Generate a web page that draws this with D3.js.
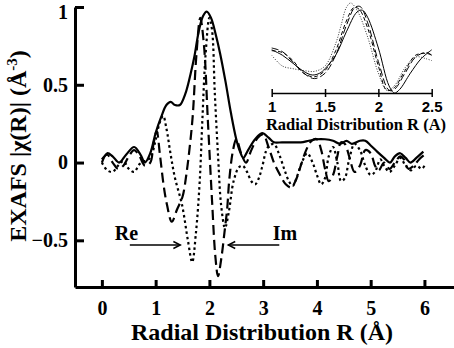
<!DOCTYPE html>
<html>
<head>
<meta charset="utf-8">
<script src="https://cdn.jsdelivr.net/npm/d3@7"></script>
<style>
	body { margin: 0; background: #fff; }
	svg { display: block; font-family: 'Liberation Serif', 'Times New Roman', serif; font-weight: bold; }
</style>
</head>
<body>
<div id="root"></div>
<script>
const 	width = 454,
		height = 348

// main panel: [R, value]
const magnitude = [[0,0],[0.1,0.06],[0.2,0.04],[0.32,0],[0.45,0.05],[0.6,0.10],[0.72,0.05],[0.8,0],[0.9,0.06],[1.0,0.19],
	[1.1,0.29],[1.2,0.37],[1.28,0.39],[1.36,0.37],[1.45,0.37],[1.55,0.44],[1.65,0.57],[1.72,0.68],[1.8,0.84],[1.88,0.94],
	[1.95,0.97],[2.03,0.93],[2.12,0.82],[2.2,0.70],[2.3,0.52],[2.4,0.32],[2.5,0.15],[2.57,0.07],[2.63,0.03],[2.72,0.08],
	[2.85,0.15],[2.98,0.19],[3.1,0.16],[3.2,0.13],[3.35,0.13],[3.5,0.13],[3.7,0.13],[3.85,0.14],[4.0,0.15],[4.15,0.15],
	[4.3,0.14],[4.43,0.12],[4.55,0.14],[4.65,0.12],[4.8,0.14],[4.9,0.14],[5.0,0.11],[5.12,0.07],[5.25,0.03],[5.36,0],
	[5.45,0.04],[5.55,0.06],[5.65,0.03],[5.74,0],[5.85,0.03],[5.98,0.07]]

const realPart = [[0,0],[0.1,-0.05],[0.2,-0.06],[0.3,-0.02],[0.4,0.01],[0.5,-0.04],[0.6,-0.06],[0.7,-0.01],[0.8,0.01],[0.9,0.03],
	[0.99,0.13],[1.07,0.25],[1.14,0.30],[1.2,0.22],[1.28,0.05],[1.36,-0.10],[1.49,-0.27],[1.6,-0.50],[1.68,-0.64],[1.75,-0.45],
	[1.82,-0.12],[1.87,0.28],[1.93,0.70],[2.0,0.93],[2.05,0.85],[2.1,0.45],[2.16,0.05],[2.22,-0.28],[2.29,-0.42],[2.36,-0.32],
	[2.45,-0.12],[2.55,-0.03],[2.62,-0.02],[2.7,-0.06],[2.78,-0.12],[2.85,-0.14],[2.92,-0.10],[2.98,-0.03],[3.09,0.10],[3.2,0.12],
	[3.3,0.05],[3.4,-0.05],[3.48,-0.12],[3.55,-0.15],[3.62,-0.10],[3.72,0],[3.82,0.06],[3.92,0],[4.0,-0.08],[4.08,-0.14],
	[4.15,-0.10],[4.22,0.04],[4.3,0.10],[4.38,0],[4.45,-0.12],[4.52,-0.10],[4.6,0.02],[4.7,0.12],[4.8,0.08],[4.9,-0.02],
	[5.0,-0.08],[5.08,-0.06],[5.18,0.02],[5.25,-0.02],[5.35,-0.06],[5.45,-0.02],[5.55,0.03],[5.65,-0.02],[5.75,-0.05],[5.85,-0.02],
	[5.95,-0.04],[6.0,-0.02]]

const imagPart = [[0,0.02],[0.1,0.05],[0.2,0],[0.3,-0.04],[0.4,-0.02],[0.5,0.04],[0.6,0.08],[0.7,0.04],[0.8,-0.02],[0.9,0],
	[0.96,0.12],[1.02,0.20],[1.08,0.05],[1.15,-0.15],[1.21,-0.27],[1.3,-0.38],[1.4,-0.30],[1.5,-0.22],[1.57,-0.08],[1.64,0.12],
	[1.69,0.30],[1.76,0.70],[1.83,0.93],[1.9,0.75],[1.97,0.28],[2.05,-0.25],[2.11,-0.60],[2.16,-0.73],[2.22,-0.62],[2.28,-0.45],
	[2.33,-0.30],[2.37,-0.11],[2.44,0.08],[2.5,0.15],[2.6,0.05],[2.68,0],[2.78,0.08],[2.9,0.16],[3.0,0.18],[3.1,0.10],
	[3.2,0],[3.3,-0.07],[3.42,-0.14],[3.52,-0.16],[3.6,-0.12],[3.7,-0.02],[3.8,0.08],[3.9,0.14],[4.0,0.15],[4.08,0.08],
	[4.15,-0.04],[4.22,-0.12],[4.3,-0.08],[4.38,0.04],[4.45,0.13],[4.52,0.12],[4.6,0.04],[4.7,-0.06],[4.8,-0.02],[4.9,0.08],
	[5.0,0.06],[5.08,-0.02],[5.15,-0.05],[5.25,0],[5.35,-0.04],[5.45,0],[5.55,0.04],[5.62,0.02],[5.7,-0.04],[5.8,-0.02],
	[5.9,0.02],[6.0,0.05]]

const xTicks = [0, 1, 2, 3, 4, 5, 6]
const yTicks = [-0.5, 0, 0.5, 1]

// inset: normalised magnitudes, 1 - 2.5 A
const insetSolid = [[1.0,0.48],[1.1,0.42],[1.2,0.33],[1.3,0.24],[1.38,0.20],[1.45,0.22],[1.5,0.27],[1.6,0.42],[1.7,0.68],[1.8,0.90],
	[1.85,0.92],[1.9,0.84],[2.0,0.50],[2.1,0.08],[2.15,0],[2.2,0.04],[2.3,0.22],[2.4,0.38],[2.5,0.48]]
const insetDotted = [[1.0,0.42],[1.1,0.30],[1.2,0.27],[1.3,0.25],[1.4,0.24],[1.5,0.30],[1.6,0.55],[1.65,0.75],[1.7,0.95],[1.74,1.0],
	[1.8,0.92],[1.9,0.62],[2.0,0.22],[2.08,0.03],[2.15,0.08],[2.25,0.28],[2.35,0.40],[2.45,0.38],[2.5,0.36]]
const insetLong = [[1.0,0.50],[1.1,0.46],[1.2,0.34],[1.3,0.22],[1.4,0.16],[1.5,0.22],[1.6,0.42],[1.7,0.75],[1.78,0.95],[1.83,0.96],
	[1.9,0.78],[2.0,0.35],[2.1,0.03],[2.15,0.04],[2.25,0.22],[2.35,0.40],[2.45,0.45],[2.5,0.42]]
const insetMedium = [[1.0,0.47],[1.1,0.45],[1.2,0.36],[1.3,0.22],[1.4,0.18],[1.5,0.25],[1.6,0.47],[1.7,0.80],[1.77,0.95],[1.82,0.93],
	[1.9,0.72],[2.0,0.30],[2.08,0.03],[2.15,0.06],[2.25,0.25],[2.35,0.42],[2.45,0.44],[2.5,0.42]]
const insetTicks = [1, 1.5, 2, 2.5]

const svg = d3.select('#root')
			.append('svg')
			.attr('width', width)
			.attr('height', height)

const x = d3.scaleLinear().domain([-0.5, 6.55]).range([75, 454])
const y = d3.scaleLinear().domain([-0.8, 1]).range([287, 7])

const line = d3.line()
				.x(d => x(d[0]))
				.y(d => y(d[1]))
				.curve(d3.curveCatmullRom.alpha(0.5))

const curves = [
	{ data: realPart, dash: '2.5,3' },
	{ data: imagPart, dash: '10,5' },
	{ data: magnitude, dash: null }
]

svg.append('g')
	.selectAll('path')
	.data(curves)
	.enter().append('path')
	.attr('d', d => line(d.data))
	.attr('fill', 'none')
	.attr('stroke', '#000')
	.attr('stroke-width', 2.2)
	.attr('stroke-dasharray', d => d.dash)

// axes
const xAxis = svg.append('g')
				.attr('transform', `translate(0,${y(-0.8)})`)
				.call(d3.axisBottom(x).tickValues(xTicks).tickSizeInner(-7).tickSizeOuter(0).tickPadding(14)
					.tickFormat(d3.format('d')))
const yAxis = svg.append('g')
				.attr('transform', `translate(${x(-0.5)},0)`)
				.call(d3.axisLeft(y).tickValues(yTicks).tickSizeInner(-9).tickSizeOuter(0).tickPadding(7)
					.tickFormat(d => d < 0 ? '\u2212' + Math.abs(d) : String(d)))

svg.selectAll('.domain').attr('stroke-width', 3)
xAxis.selectAll('.tick line').attr('stroke-width', 3)
yAxis.selectAll('.tick line').attr('stroke-width', 3)
svg.selectAll('.tick text')
	.attr('font-family', "'Liberation Serif', serif")
	.attr('font-weight', 'bold')
	.attr('font-size', 20)
	.attr('fill', '#000')
// top label sits a bit lower so it stays inside the page
yAxis.selectAll('.tick text').filter(d => d === 1).attr('y', 5)

svg.append('text')
	.attr('x', 262)
	.attr('y', 340)
	.attr('text-anchor', 'middle')
	.attr('font-size', 24)
	.text('Radial Distribution R (Å)')

const yTitle = svg.append('text')
				.attr('transform', 'translate(26,146) rotate(-90)')
				.attr('text-anchor', 'middle')
				.attr('font-size', 24)
yTitle.append('tspan').text('EXAFS |χ(R)| (Å')
yTitle.append('tspan').attr('font-size', 15).attr('dy', '-0.6em').text('-3')
yTitle.append('tspan').attr('dy', '0.37em').text(')')

// Re / Im markers
const arrow = (x1, x2, yv) => {
	const a = svg.append('g').attr('stroke', '#000').attr('stroke-width', 1.4).attr('fill', 'none')
	a.append('line')
		.attr('x1', x(x1)).attr('x2', x(x2))
		.attr('y1', y(yv)).attr('y2', y(yv))
	const s = x2 > x1 ? -1 : 1
	a.append('path')
		.attr('d', `M${x(x2) + s * 7},${y(yv) - 3.5}L${x(x2)},${y(yv)}L${x(x2) + s * 7},${y(yv) + 3.5}`)
}
arrow(0.52, 1.46, -0.53)
arrow(3.3, 2.35, -0.53)

svg.append('text').attr('x', x(0.24)).attr('y', y(-0.5)).attr('font-size', 20).text('Re')
svg.append('text').attr('x', x(3.18)).attr('y', y(-0.5)).attr('font-size', 20).text('Im')

// inset
const xi = d3.scaleLinear().domain([1, 2.5]).range([271.7, 431.7])
const yi = d3.scaleLinear().domain([0, 1]).range([93, 3])

const insetLine = d3.line()
					.x(d => xi(d[0]))
					.y(d => yi(d[1]))
					.curve(d3.curveCatmullRom.alpha(0.5))

const insetCurves = [
	{ data: insetDotted, dash: '1,1.6', color: '#333' },
	{ data: insetLong, dash: '7,3', color: '#000' },
	{ data: insetMedium, dash: '4,2.5', color: '#000' },
	{ data: insetSolid, dash: null, color: '#000' }
]

svg.append('g')
	.selectAll('path')
	.data(insetCurves)
	.enter().append('path')
	.attr('d', d => insetLine(d.data))
	.attr('fill', 'none')
	.attr('stroke', d => d.color)
	.attr('stroke-width', 1)
	.attr('stroke-dasharray', d => d.dash)

const insetAxis = svg.append('g')
					.attr('transform', `translate(0,${yi(0)})`)
					.call(d3.axisBottom(xi).tickValues(insetTicks).tickSizeInner(-4).tickSizeOuter(0).tickPadding(8)
						.tickFormat(d => String(d)))
insetAxis.select('.domain').attr('stroke-width', 1.5)
insetAxis.selectAll('.tick line').attr('y2', 4).attr('y1', -4).attr('stroke-width', 1.5)
insetAxis.selectAll('.tick text').attr('font-size', 15)

svg.append('text')
	.attr('x', 356)
	.attr('y', 130)
	.attr('text-anchor', 'middle')
	.attr('font-size', 16.5)
	.text('Radial Distribution R (A)')
</script>
</body>
</html>
